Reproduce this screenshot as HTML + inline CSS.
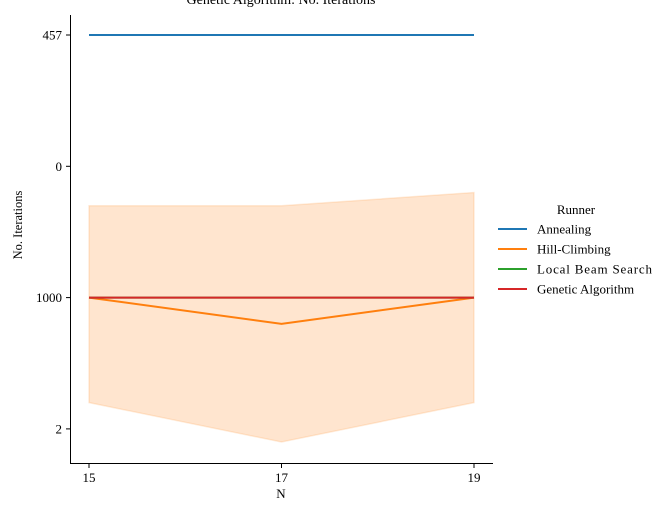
<!DOCTYPE html>
<html><head><meta charset="utf-8">
<style>
body{margin:0;background:#fff;}
svg text{font-family:"Liberation Serif",serif;fill:#000;}
</style></head>
<body>
<svg id="chart" width="666" height="500" viewBox="0 0 666 500">
  <text x="281" y="4" font-size="14" text-anchor="middle">Genetic Algorithm: No. Iterations</text>
  <g id="plot"></g>
  <line x1="70.5" y1="15" x2="70.5" y2="463.5" stroke="#000" stroke-width="1"/>
  <line x1="70" y1="463.5" x2="493" y2="463.5" stroke="#000" stroke-width="1"/>
  <text x="281" y="498" font-size="13" text-anchor="middle">N</text>
  <text transform="translate(22,225) rotate(-90)" font-size="12.5" text-anchor="middle">No. Iterations</text>
  <g id="legend">
    <text x="576" y="214" font-size="13" text-anchor="middle">Runner</text>
  </g>
</svg>
<script>
const categories = [15, 17, 19];
const yTickLabels = ["457", "0", "1000", "2"];
const seriesNames = ["Annealing", "Hill-Climbing", "Local Beam Search", "Genetic Algorithm"];
const seriesColors = ["#1f77b4", "#ff7f0e", "#2ca02c", "#d62728"];
const annealing = [0, 0, 0];
const hillClimbing = [2, 2.2, 2];
const hillLow = [1.3, 1.3, 1.2];
const hillHigh = [2.8, 3.1, 2.8];
const localBeam = [2, 2, 2];
const genetic = [2, 2, 2];

const NS = "http://www.w3.org/2000/svg";
function xs(n){ return 89 + (n - 15) * 96.25; }
function ys(i){ return 35 + i * 131.3; }
const plot = document.getElementById('plot');
const svg = document.getElementById('chart');
function mk(tag, attrs, parent){ const e = document.createElementNS(NS, tag); for (const k in attrs) e.setAttribute(k, attrs[k]); (parent||plot).appendChild(e); return e; }

let d = categories.map((c,i)=>(i?'L':'M')+xs(c)+','+ys(hillLow[i])).join(' ');
for (let i = categories.length-1; i>=0; i--) d += ' L'+xs(categories[i])+','+ys(hillHigh[i]);
const band = mk('path', {d: d+' Z', fill: '#ff7f0e', 'fill-opacity': 0.2, stroke: '#ff7f0e', 'stroke-opacity': 0.15, 'stroke-width': 1.5});



const allSeries = [annealing, hillClimbing, localBeam, genetic];
allSeries.forEach((vals, s) => {
  const p = mk('polyline', {points: categories.map((c,i)=>xs(c)+','+ys(vals[i])).join(' '), fill: 'none', stroke: seriesColors[s], 'stroke-width': 2});
  
  
});

categories.forEach(c => {
  const t = mk('line', {x1: xs(c), y1: 463.5, x2: xs(c), y2: 468, stroke: '#000'}, svg);
  
  
  const l = mk('text', {x: xs(c), y: 482, 'font-size': 13, 'text-anchor': 'middle'}, svg);
  l.textContent = c;
  
  
});
yTickLabels.forEach((lab, i) => {
  const t = mk('line', {x1: 66, y1: ys(i), x2: 70.5, y2: ys(i), stroke: '#000'}, svg);
  
  
  const l = mk('text', {x: 62, y: ys(i)+4.5, 'font-size': 13, 'text-anchor': 'end'}, svg);
  l.textContent = lab;
  
  
});
const leg = document.getElementById('legend');
seriesNames.forEach((n, i) => {
  const y = 229 + i * 20;
  const ln = mk('line', {x1: 498, y1: y, x2: 527, y2: y, stroke: seriesColors[i], 'stroke-width': 2}, leg);
  
  
  const tx = mk('text', {x: 537, y: y+4.5, 'font-size': 13, textLength: n === 'Local Beam Search' ? 115 : null}, leg);
  if (n !== 'Local Beam Search') tx.removeAttribute('textLength');
  tx.textContent = n;
  
  
});
</script>
</body></html>
